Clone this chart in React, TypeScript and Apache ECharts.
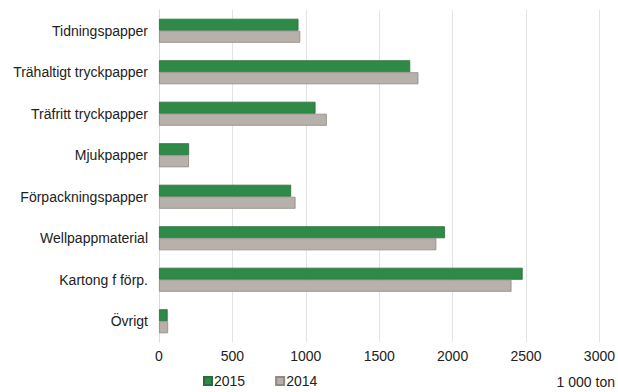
import React, { useEffect, useRef } from "react";
import * as echarts from "echarts";

const categories = [
  "Tidningspapper",
  "Trähaltigt tryckpapper",
  "Träfritt tryckpapper",
  "Mjukpapper",
  "Förpackningspapper",
  "Wellpappmaterial",
  "Kartong f förp.",
  "Övrigt",
];
const values2015 = [950, 1711, 1066, 205, 900, 1948, 2477, 59];
const values2014 = [962, 1767, 1143, 204, 930, 1889, 2401, 62];
const seriesNames = ["2015", "2014"];
const unitLabel = "1 000 ton";

export default function App() {
  const ref = useRef<HTMLDivElement>(null);
  useEffect(() => {
    if (!ref.current) return;
    const chart = echarts.init(ref.current, undefined, { renderer: "svg" });
    const font = "Liberation Sans, Arial, sans-serif";
    chart.setOption({
      animation: false,
      backgroundColor: "#ffffff",
      textStyle: { fontFamily: font },
      grid: { left: 159, right: 17, top: 10, bottom: 50, containLabel: false },
      legend: {
        data: seriesNames,
        top: 374,
        left: 203,
        padding: 0,
        icon: "rect",
        itemWidth: 8,
        itemHeight: 8,
        itemGap: 30,
        textStyle: { fontSize: 14, color: "#222", fontFamily: font, padding: [0, 0, 0, -3] },
      },
      graphic: [
        {
          type: "text",
          right: 3,
          top: 375,
          style: { text: unitLabel, fill: "#222", font: `14px ${font}` },
        },
      ],
      xAxis: {
        type: "value",
        min: 0,
        max: 3000,
        interval: 500,
        axisLine: { show: false },
        axisTick: { show: false },
        splitLine: { show: true, lineStyle: { color: "#e3e3e3", width: 1 } },
        axisLabel: {
          fontSize: 14,
          color: "#222",
          margin: 7,
          fontFamily: font,
          formatter: (v: number) => String(v),
        },
      },
      yAxis: {
        type: "category",
        data: categories,
        inverse: true,
        axisLine: { show: true, lineStyle: { color: "#d9d9d9" } },
        axisTick: { show: false },
        axisLabel: { fontSize: 14, color: "#222", margin: 11, fontFamily: font },
      },
      series: [
        {
          name: seriesNames[0],
          type: "bar",
          data: values2015,
          barWidth: 12,
          barGap: "0%",
          itemStyle: { color: "#2f8a47", borderColor: "#2a6b3b", borderWidth: 0.8 },
        },
        {
          name: seriesNames[1],
          type: "bar",
          data: values2014,
          barWidth: 12,
          barGap: "0%",
          itemStyle: { color: "#b8b0aa", borderColor: "#8f8883", borderWidth: 0.8 },
        },
      ],
    });
    return () => chart.dispose();
  }, []);
  return (
    <div
      ref={ref}
      style={{ position: "absolute", left: 0, top: 0, width: 618, height: 392 }}
    />
  );
}
